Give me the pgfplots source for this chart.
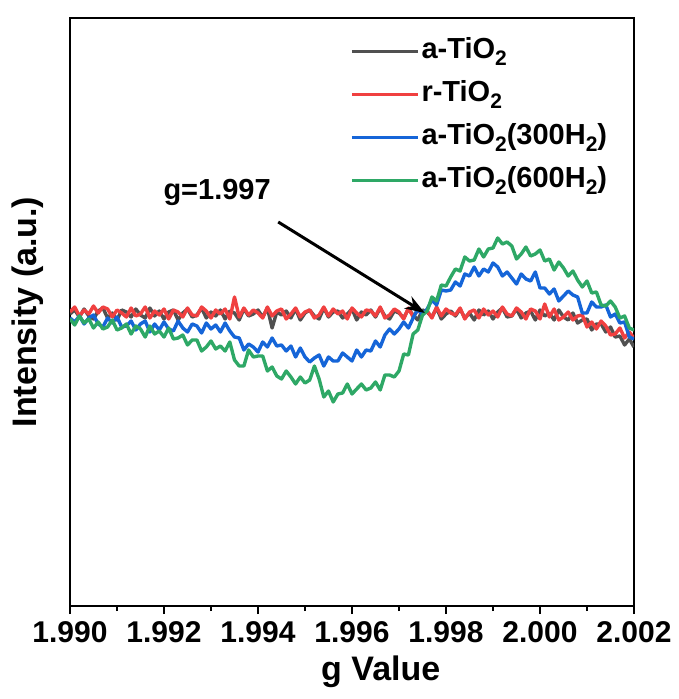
\documentclass[border=0pt]{standalone}
\usepackage{fontspec}
\setmainfont{Liberation Sans}
\usepackage{pgfplots}
\usepackage{pgfplotstable}
\pgfplotsset{compat=1.18}
\usetikzlibrary{arrows.meta}

\definecolor{cA}{HTML}{505050}
\definecolor{cR}{HTML}{F04040}
\definecolor{cB}{HTML}{1565D8}
\definecolor{cG}{HTML}{2EA866}
\newcommand{\sub}[1]{\raisebox{-0.45ex}{\fontsize{10.5}{10.5}\selectfont #1}}

% EPR spectra, intensity in arbitrary units
\pgfplotstableread{
g A R B G
1.9900 292 294 288 287
1.9901 296 299 284 281
1.9902 289 290 290 290
1.9903 297 296 282 283
1.9904 290 292 288 287
1.9905 287 300 291 278
1.9906 295 293 282 284
1.9907 298 299 279 277
1.9908 288 297 288 279
1.9909 293 289 283 286
1.9910 286 296 289 276
1.9911 296 293 279 278
1.9912 294 289 280 282
1.9913 289 298 285 272
1.9914 297 290 276 280
1.9915 291 292 282 277
1.9916 288 299 285 269
1.9917 298 288 274 280
1.9918 290 295 282 272
1.9919 295 291 276 275
1.9920 287 297 284 269
1.9921 294 287 277 278
1.9922 296 296 275 267
1.9923 286 294 285 268
1.9924 293 289 278 271
1.9925 297 298 274 261
1.9926 289 291 282 266
1.9927 291 290 280 266
1.9928 298 299 273 255
1.9929 288 295 283 259
1.9930 294 288 277 265
1.9931 290 296 281 257
1.9932 296 292 274 260
1.9933 287 297 283 255
1.9934 295 287 275 264
1.9935 293 309 269 246
1.9936 286 289 268 240
1.9937 297 298 256 240
1.9938 290 291 262 256
1.9939 292 296 259 249
1.9940 296 293 254 250
1.9941 289 288 264 250
1.9942 298 299 259 235
1.9943 278 290 268 239
1.9944 294 295 260 230
1.9945 291 297 261 227
1.9946 295 287 255 235
1.9947 288 292 260 229
1.9948 297 298 249 222
1.9949 286 289 258 229
1.9950 293 294 249 223
1.9951 296 296 244 226
1.9952 290 288 248 240
1.9953 287 291 251 227
1.9954 298 299 240 209
1.9955 289 290 249 215
1.9956 294 297 245 204
1.9957 295 292 245 212
1.9958 288 295 253 213
1.9959 292 287 249 222
1.9960 297 298 245 212
1.9961 286 293 256 217
1.9962 294 289 249 222
1.9963 291 296 256 216
1.9964 296 295 255 218
1.9965 289 290 265 224
1.9966 298 299 259 216
1.9967 290 288 271 231
1.9968 287 291 277 231
1.9969 295 297 272 229
1.9970 293 294 277 235
1.9971 288 287 284 252
1.9972 297 298 278 251
1.9973 291 289 288 272
1.9974 286 296 297 276
1.9975 296 292 291 291
1.9976 294 295 297 295
1.9977 289 288 306 309
1.9978 298 299 301 305
1.9979 287 290 316 321
1.9980 292 297 315 320
1.9981 295 293 316 329
1.9982 290 291 324 337
1.9983 297 298 320 335
1.9984 288 287 332 349
1.9985 293 294 330 345
1.9986 286 296 339 346
1.9987 296 288 330 357
1.9988 291 297 337 349
1.9989 295 291 334 357
1.9990 287 295 343 358
1.9991 294 289 339 368
1.9992 298 299 330 362
1.9993 289 292 334 364
1.9994 290 290 328 360
1.9995 297 298 322 347
1.9996 288 294 332 352
1.9997 293 287 327 359
1.9998 295 297 325 350
1.9999 286 295 334 352
2.0000 296 287 318 356
2.0001 290 302 318 345
2.0002 293 289 312 347
2.0003 286 297 317 336
2.0004 296 286 305 344
2.0005 289 289 310 338
2.0006 286 294 315 330
2.0007 293 286 311 335
2.0008 283 290 309 326
2.0009 286 291 293 319
2.0010 287 279 293 325
2.0011 276 284 304 313
2.0012 282 277 299 314
2.0013 282 285 299 301
2.0014 274 280 301 300
2.0015 279 271 289 305
2.0016 269 272 292 299
2.0017 270 278 283 288
2.0018 261 268 284 290
2.0019 267 274 269 278
2.0020 259 268 267 276
}\epr

\begin{document}
\begin{tikzpicture}
\begin{axis}[
    name=ax,
    scale only axis,
    width=282pt, height=294pt,
    xmin=1.990, xmax=2.002,
    ymin=0, ymax=588,
    xtick={1.990,1.992,1.994,1.996,1.998,2.000,2.002},
    xticklabels={1.990,1.992,1.994,1.996,1.998,2.000,2.002},
    minor x tick num=1,
    xtick pos=bottom,
    tick align=outside,
    ytick=\empty,
    major tick length=4pt,
    minor tick length=2.5pt,
    axis line style={line width=1pt},
    major tick style={line width=1pt, black},
    minor tick style={line width=1pt, black},
    ticklabel style={font=\fontsize{15}{15}\selectfont\bfseries},
    xlabel={g Value},
    ylabel={Intensity (a.u.)},
    xlabel style={at={(axis description cs:0.551,-0.112)}, anchor=center,
        font=\fontsize{17}{17}\selectfont\bfseries},
    ylabel style={at={(axis description cs:-0.0745,0.5)}, anchor=center,
        font=\fontsize{17}{17}\selectfont\bfseries},
    legend style={at={(rel axis cs:0.496,0.973)}, anchor=north west,
        draw=none, fill=none, inner sep=0pt, row sep=4.5pt,
        font=\fontsize{14.5}{14.5}\selectfont\bfseries,
        nodes={inner sep=1pt, text height=11pt, text depth=4pt}},
    legend cell align=left,
    legend image code/.code={\draw[#1] (0pt,0pt) -- (33pt,0pt);},
    every axis plot/.append style={line width=1.7pt, line join=round},
]
\addplot[cA] table[x=g, y=A] {\epr};
\addlegendentry{a-TiO\sub{2}}
\addplot[cR] table[x=g, y=R] {\epr};
\addlegendentry{r-TiO\sub{2}}
\addplot[cB] table[x=g, y=B] {\epr};
\addlegendentry{a-TiO\sub{2}(300H\sub{2})}
\addplot[cG] table[x=g, y=G] {\epr};
\addlegendentry{a-TiO\sub{2}(600H\sub{2})}

\draw[-{Stealth[length=10pt, width=7pt]}, line width=1.5pt]
    (axis cs:1.99443,384) -- (axis cs:1.99755,293);
\node[font=\fontsize{14.5}{14.5}\selectfont\bfseries]
    at (axis cs:1.99313,414) {g=1.997};
\end{axis}
\pgfresetboundingbox
\path ([xshift=-35pt,yshift=-46.5pt]ax.south west)
    rectangle ([xshift=22pt,yshift=9pt]ax.north east);
\end{tikzpicture}
\end{document}
